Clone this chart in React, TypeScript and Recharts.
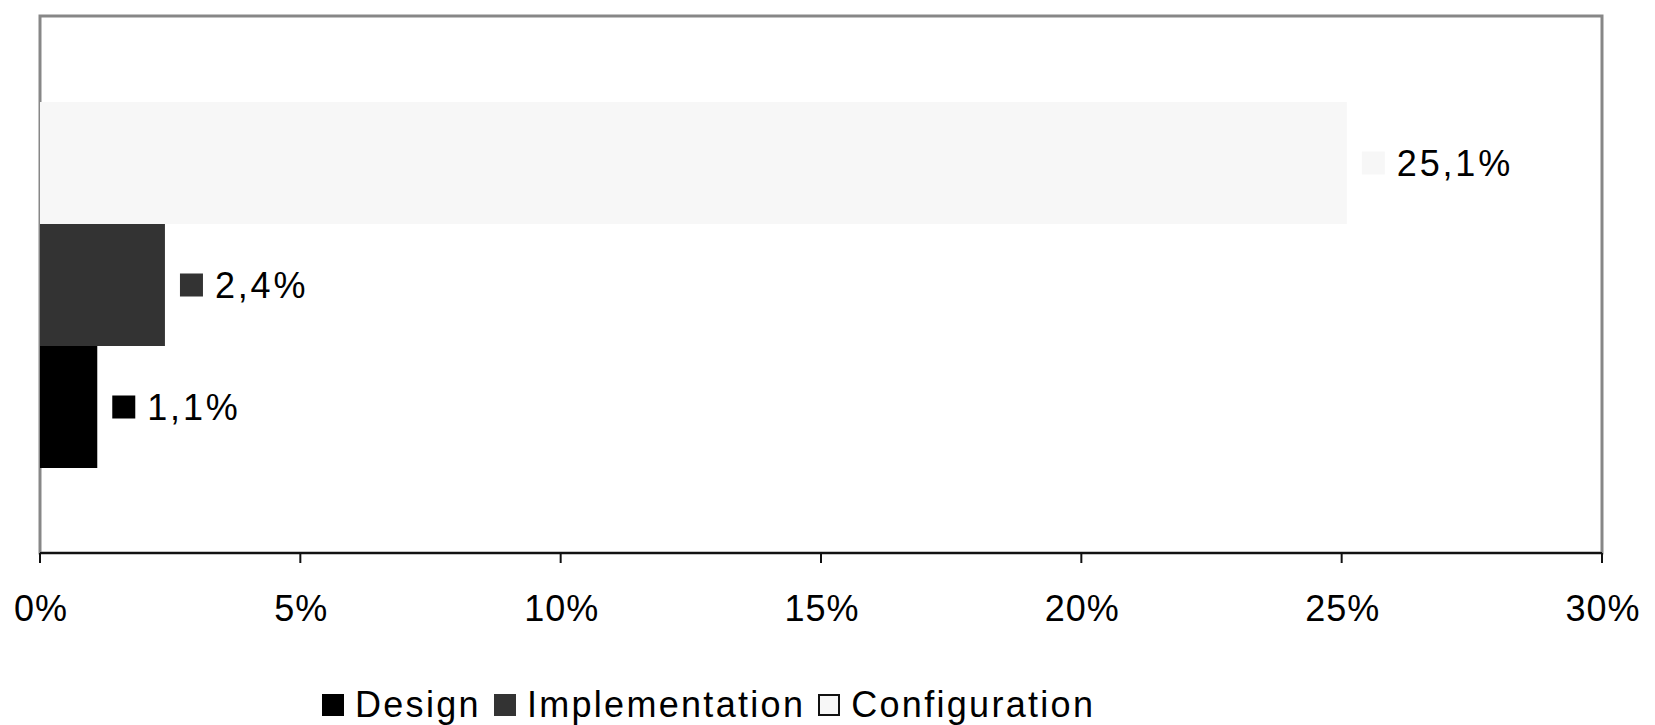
import { BarChart, Bar, XAxis, YAxis, ReferenceArea } from "recharts";

const categories = ["Share"];
const seriesKeys = ["design", "implementation", "configuration"];
const seriesNames = ["Design", "Implementation", "Configuration"];
const seriesValues = [1.1, 2.4, 25.1];
const xTicks = [0, 5, 10, 15, 20, 25, 30];

const colors: Record<string, string> = {
  design: "#000000",
  implementation: "#333333",
  configuration: "#f7f7f7",
};

const FONT = "'Liberation Sans', Arial, sans-serif";

const data = categories.map((name) => {
  const row: any = { name };
  seriesKeys.forEach((k, i) => {
    row[k] = seriesValues[i];
  });
  return row;
});

const fmt = (v: number) => `${v.toFixed(1).replace(".", ",")}%`;

// little colour square + value, sitting right of the bar end
const renderTag = (color: string) => (props: any) => {
  const { x, y, width, height, value } = props;
  const end = Number(x) + Number(width);
  const cy = Number(y) + Number(height) / 2;
  return (
    <g>
      <rect x={end + 15} y={cy - 11.5} width={23} height={23} fill={color} />
      <text
        x={end + 50}
        y={cy + 13}
        fontSize={36}
        fontFamily={FONT}
        fill="#000"
        style={{ letterSpacing: 2.8 }}
      >
        {fmt(Number(value))}
      </text>
    </g>
  );
};

const PercentTick = (props: any) => {
  const { x, y, payload } = props;
  return (
    <text
      x={Number(x) + 1}
      y={Number(y) + 24}
      textAnchor="middle"
      fontSize={36}
      fontFamily={FONT}
      fill="#000"
      style={{ letterSpacing: 1 }}
    >
      {`${payload.value}%`}
    </text>
  );
};

export default function App() {
  return (
    <div
      style={{
        position: "absolute",
        left: 0,
        top: 0,
        width: 1655,
        height: 725,
        background: "#fff",
        fontFamily: FONT,
      }}
    >
      <BarChart
        width={1655}
        height={725}
        data={data}
        layout="vertical"
        margin={{ top: 10, right: 53, left: 40, bottom: 72 }}
        barGap={0}
        barSize={122}
      >
        <XAxis
          type="number"
          domain={[0, 30]}
          ticks={xTicks}
          axisLine={{ stroke: "#111", strokeWidth: 2 }}
          tickLine={{ stroke: "#111", strokeWidth: 2 }}
          tickSize={10}
          tickMargin={34}
          height={100}
          tick={<PercentTick />}
          interval={0}
        />
        <YAxis
          type="category"
          dataKey="name"
          hide
          padding={{ top: 6, bottom: 0 }}
        />
        <ReferenceArea
          x1={0}
          x2={30}
          fill="none"
          stroke="#878787"
          strokeWidth={3}
        />
        {[...seriesKeys].reverse().map((k) => (
          <Bar
            key={k}
            dataKey={k}
            fill={colors[k]}
            isAnimationActive={false}
            label={renderTag(colors[k])}
          />
        ))}
      </BarChart>

      <div
        style={{
          position: "absolute",
          left: 322,
          top: 687,
          display: "flex",
          alignItems: "center",
          fontSize: 36,
          lineHeight: "36px",
          letterSpacing: 2.3,
          color: "#000",
        }}
      >
        {seriesKeys.map((k, i) => (
          <div
            key={k}
            style={{ display: "flex", alignItems: "center", marginRight: 13 }}
          >
            <div
              style={{
                width: 22,
                height: 22,
                boxSizing: "border-box",
                background: colors[k],
                border: k === "configuration" ? "2px solid #111" : "none",
                marginRight: 11,
              }}
            />
            <span>{seriesNames[i]}</span>
          </div>
        ))}
      </div>
    </div>
  );
}
